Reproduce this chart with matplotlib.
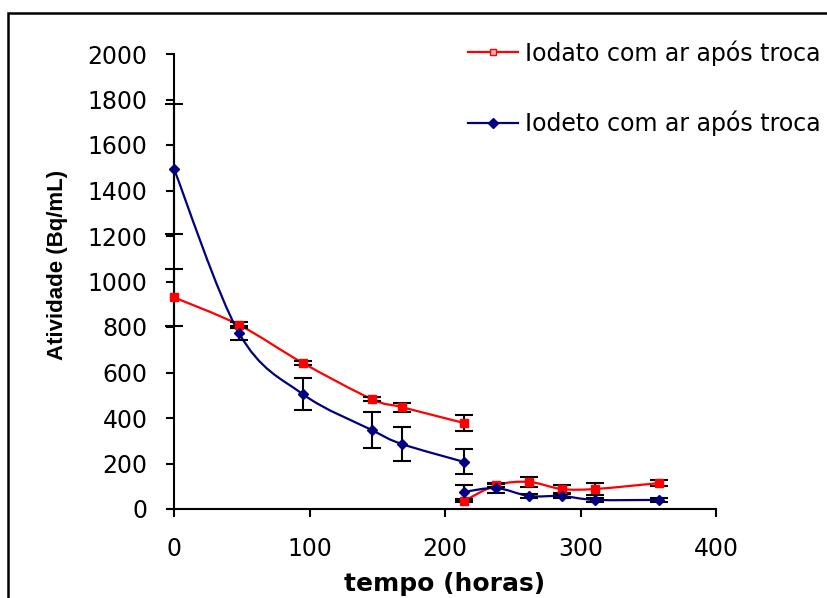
import numpy as np
import matplotlib
matplotlib.use("Agg")
import matplotlib.pyplot as plt
from matplotlib.path import Path
from matplotlib.patches import PathPatch, Rectangle
from matplotlib.lines import Line2D

# tempo (horas) - before and after the exchange
tempo_antes = [0, 48, 95, 146, 168, 214]
tempo_apos = [214, 238, 262, 286, 311, 358]

iodato_antes = [930, 809, 642, 483, 448, 378]
iodato_apos = [35, 105, 119, 88, 88, 114]
iodato_err_antes = [125, 15, 10, 10, 20, 35]
iodato_err_apos = [6, 10, 21, 17, 28, 15]

iodeto_antes = [1495, 773, 505, 347, 286, 207]
iodeto_apos = [75, 92, 57, 57, 40, 40]
iodeto_err_antes = [285, 30, 70, 80, 75, 55]
iodeto_err_apos = [29, 20, 8, 10, 8, 10]

labels = ["Iodato com ar após troca", "Iodeto com ar após troca"]
RED = "#ff0000"
BLUE = "#000080"


def smooth_path(x, y):
    # cubic bezier through the points (Catmull-Rom style control points)
    pts = np.column_stack([x, y]).astype(float)
    n = len(pts)
    verts = [pts[0]]
    codes = [Path.MOVETO]
    for i in range(n - 1):
        p0 = pts[max(i - 1, 0)]
        p1 = pts[i]
        p2 = pts[i + 1]
        p3 = pts[min(i + 2, n - 1)]
        c1 = p1 + (p2 - p0) / 6.0
        c2 = p2 - (p3 - p1) / 6.0
        verts += [c1, c2, p2]
        codes += [Path.CURVE4] * 3
    return Path(verts, codes)


def draw_series(ax, x, y, err, color, marker, ms):
    ax.add_patch(PathPatch(smooth_path(x, y), fill=False, edgecolor=color,
                           lw=1.6, zorder=2))
    ax.errorbar(x, y, yerr=err, fmt="none", ecolor="black", elinewidth=1.5,
                capsize=6.5, capthick=1.5, zorder=3, clip_on=False)
    ax.plot(x, y, ls="none", marker=marker, ms=ms, mfc=color, mec=color,
            zorder=4, clip_on=False)


fig = plt.figure(figsize=(8.28, 5.98), dpi=100)
ax = fig.add_axes([174 / 828, 1 - 509 / 598, 542 / 828, 455 / 598])

draw_series(ax, tempo_antes, iodato_antes, iodato_err_antes, RED, "s", 5.5)
draw_series(ax, tempo_apos, iodato_apos, iodato_err_apos, RED, "s", 5.5)
draw_series(ax, tempo_antes, iodeto_antes, iodeto_err_antes, BLUE, "D", 5)
draw_series(ax, tempo_apos, iodeto_apos, iodeto_err_apos, BLUE, "D", 5)

ax.set_xlim(0, 400)
ax.set_ylim(0, 2000)
ax.set_xticks(np.arange(0, 401, 100))
ax.set_yticks(np.arange(0, 2001, 200))

for s in ["top", "right"]:
    ax.spines[s].set_visible(False)
for s in ["left", "bottom"]:
    ax.spines[s].set_linewidth(1.5)

ax.tick_params(axis="both", direction="out", length=6, width=1.5,
               labelsize=17)
ax.tick_params(axis="y", pad=13)
ax.tick_params(axis="x", pad=14)
for t in ax.get_xticklabels() + ax.get_yticklabels():
    t.set_family("DejaVu Sans")

ax.set_xlabel("tempo (horas)", fontsize=18, fontweight="bold",
              family="DejaVu Sans", labelpad=8)
ax.set_ylabel("Atividade (Bq/mL)", fontsize=16, fontweight="bold",
              family="Liberation Sans")
ax.yaxis.set_label_coords(-0.196, 0.536)

handles = [
    Line2D([], [], color=RED, lw=1.6, marker="s", ms=5, mfc="#ffb0b0", mec=RED),
    Line2D([], [], color=BLUE, lw=1.6, marker="D", ms=5, mfc=BLUE, mec=BLUE),
]
leg = fig.legend(handles, labels, loc="upper left",
                 bbox_to_anchor=(468 / 828, 1 - 40 / 598),
                 frameon=False, prop={"family": "DejaVu Sans", "size": 17},
                 handlelength=2.1, handletextpad=0.3, labelspacing=1.92,
                 borderaxespad=0, borderpad=0)

# outer border of the chart area
fig.patches.append(Rectangle((8 / 828, -0.2), 1.2, 1.2 - 13 / 598,
                             transform=fig.transFigure, fill=False,
                             lw=1.8, edgecolor="black"))

fig.savefig("out.png", dpi=100)
